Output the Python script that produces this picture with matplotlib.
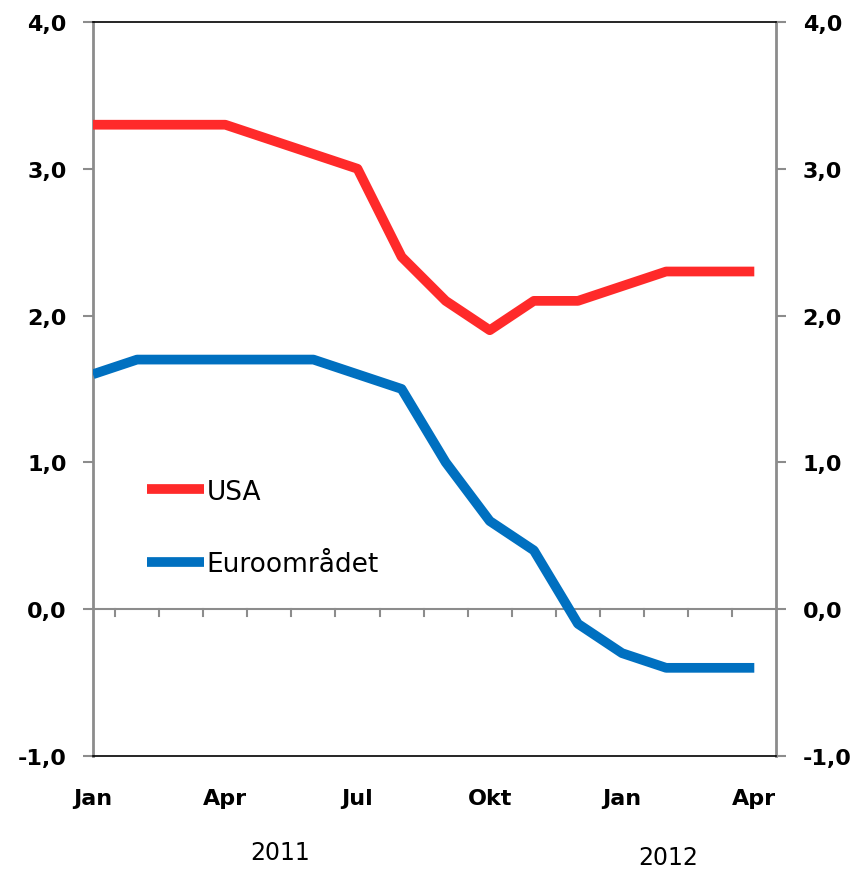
import matplotlib.pyplot as plt
from matplotlib.ticker import FixedLocator, FuncFormatter

months = ["Jan", "Feb", "Mar", "Apr", "Mai", "Jun", "Jul", "Aug", "Sep", "Okt",
          "Nov", "Des", "Jan", "Feb", "Mar", "Apr"]
usa = [3.3, 3.3, 3.3, 3.3, 3.2, 3.1, 3.0, 2.4, 2.1, 1.9, 2.1, 2.1, 2.2, 2.3, 2.3, 2.3]
euro = [1.6, 1.7, 1.7, 1.7, 1.7, 1.7, 1.6, 1.5, 1.0, 0.6, 0.4, -0.1, -0.3, -0.4, -0.4, -0.4]
years = ["2011", "2012"]

x = list(range(len(months)))
grey = "#8c8c8c"

fig = plt.figure(figsize=(8.65, 8.7), dpi=100)
ax = fig.add_axes([0.1075, 0.13, 0.79, 0.8436])

ax.plot(x, usa, color="#ff2a2a", lw=7, solid_capstyle="butt", label="USA", zorder=3)
ax.plot(x, euro, color="#0070c0", lw=7, solid_capstyle="butt", label="Euroområdet", zorder=3)

ax.set_xlim(0, 15.5)
ax.set_ylim(-1, 4)

# zero line with small ticks between months
ax.axhline(0, color=grey, lw=1.5, zorder=1)
for i in range(len(months) - 1):
    ax.plot([i + 0.5, i + 0.5], [0, -0.05], color=grey, lw=1.5, zorder=1)

ax.set_yticks([-1, 0, 1, 2, 3, 4])
fmt = FuncFormatter(lambda v, p: f"{v:.1f}".replace(".", ","))
ax.yaxis.set_major_formatter(fmt)
ax.tick_params(axis="y", direction="out", length=7, width=1.5, color=grey,
               labelsize=16, pad=12, right=True, labelright=True)
for lab in ax.get_yticklabels():
    lab.set_fontweight("bold")

ax.xaxis.set_major_locator(FixedLocator([0, 3, 6, 9, 12, 15]))
ax.set_xticklabels([months[i] for i in [0, 3, 6, 9, 12, 15]],
                   fontsize=16, fontweight="bold")
ax.tick_params(axis="x", length=0, pad=23)

for s in ["left", "right"]:
    ax.spines[s].set_color(grey)
    ax.spines[s].set_linewidth(2)
for s in ["top", "bottom"]:
    ax.spines[s].set_color("black")
    ax.spines[s].set_linewidth(1.2)

fig.text(280 / 865, 1 - 853 / 870, years[0], fontsize=17, ha="center", va="center")
fig.text(668 / 865, 1 - 858 / 870, years[1], fontsize=17, ha="center", va="center")

ax.legend(loc="lower left", bbox_to_anchor=(0.045, 0.211), frameon=False,
          fontsize=19, handlelength=2.15, handletextpad=0.1, labelspacing=1.77)

plt.savefig("out.png", dpi=100)
